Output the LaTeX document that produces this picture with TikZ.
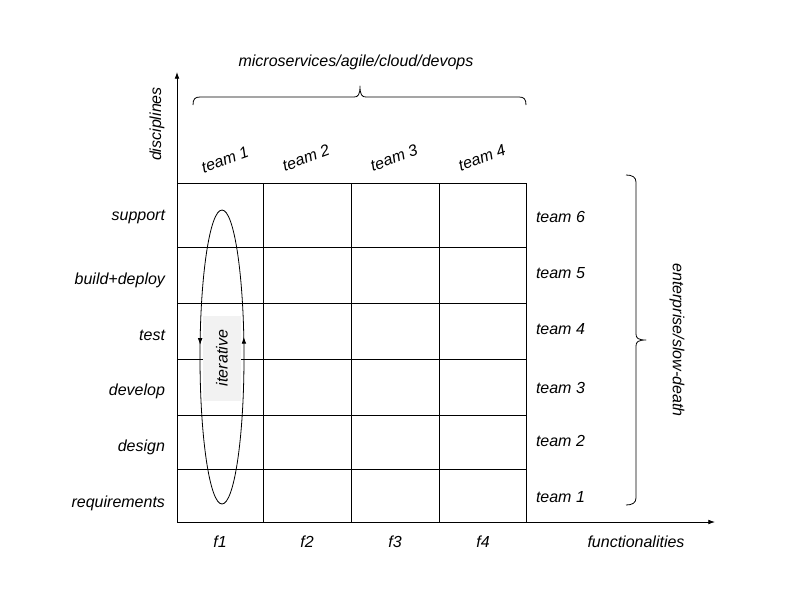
\documentclass[tikz,border=0pt]{standalone}
\usepackage{fontspec}
\setmainfont{Liberation Sans}
\usetikzlibrary{arrows.meta,decorations.markings}

\begin{document}
\begin{tikzpicture}[x=0.75pt,y=-0.75pt]
\definecolor{fillColor}{RGB}{255,255,255}
\definecolor{drawColor}{RGB}{0,0,0}
\definecolor{boxColor}{RGB}{242,242,242}
\tikzset{
  lbl/.style={text=drawColor,inner sep=0pt,outer sep=0pt,font=\fontsize{12}{14}\selectfont\itshape},
  gridline/.style={draw=drawColor,line width=0.6pt},
  axis/.style={draw=drawColor,line width=0.6pt,-{Latex[length=5pt,width=3.5pt]}},
  bracepath/.style={draw=drawColor,line width=0.6pt,line join=round}
}
\path[use as bounding box,fill=fillColor] (0,0) rectangle (800,600);

% axes
\coordinate (origin) at (177,522);
\coordinate (ytip) at (177,72);
\coordinate (xtip) at (715,522);
\path[axis] (origin) -- (ytip);
\path[axis] (origin) -- (xtip);

% grid
\path[gridline] (177,183) -- (526,183);
\path[gridline] (177,247) -- (526,247);
\path[gridline] (177,303) -- (526,303);
\path[gridline] (177,359) -- (526,359);
\path[gridline] (177,415) -- (526,415);
\path[gridline] (177,469) -- (526,469);
\path[gridline] (263,183) -- (263,522);
\path[gridline] (351,183) -- (351,522);
\path[gridline] (439,183) -- (439,522);
\path[gridline] (526,183) -- (526,522);

% iterative loop
\path[fill=boxColor] (203,316) rectangle (241,401);
\node[lbl,rotate=90] (iter) at (222,358) {iterative};
\path[draw=drawColor,line width=0.6pt,postaction={decorate},
  decoration={markings,
    mark=at position 0.52 with {\arrowreversed{Latex[length=5pt,width=3.5pt]}},
    mark=at position 0.967 with {\arrowreversed{Latex[length=5pt,width=3.5pt]}}}]
  (222,357) ellipse (22 and 147);

% disciplines
\node[lbl,anchor=base east] (support) at (165,220) {support};
\node[lbl,anchor=base east] (build) at (165,284) {build+deploy};
\node[lbl,anchor=base east] (test) at (165,340) {test};
\node[lbl,anchor=base east] (develop) at (165,395) {develop};
\node[lbl,anchor=base east] (design) at (165,451) {design};
\node[lbl,anchor=base east] (req) at (165,507) {requirements};

% functionalities
\node[lbl,anchor=base] (f1) at (220,547) {f1};
\node[lbl,anchor=base] (f2) at (307,547) {f2};
\node[lbl,anchor=base] (f3) at (395,547) {f3};
\node[lbl,anchor=base] (f4) at (483,547) {f4};
\node[lbl,anchor=base] (func) at (636,547) {functionalities};
\node[lbl,rotate=90] (disc) at (157,124) {disciplines};

% teams per functionality
\node[lbl,rotate=20] (ft1) at (225,160) {team 1};
\node[lbl,rotate=20] (ft2) at (306,158) {team 2};
\node[lbl,rotate=20] (ft3) at (394,158) {team 3};
\node[lbl,rotate=20] (ft4) at (482,158) {team 4};
\path[bracepath] (193,105) .. controls (193,99) and (195,97) .. (200,97) -- (354,97)
  .. controls (358,97) and (360,95) .. (360,86)
  .. controls (360,95) and (362,97) .. (366,97) -- (519,97)
  .. controls (524,97) and (526,99) .. (526,105);
\node[lbl] (micro) at (356,62) {microservices/agile/cloud/devops};

% teams per discipline
\node[lbl,anchor=base west] (dt6) at (536,222) {team 6};
\node[lbl,anchor=base west] (dt5) at (536,278) {team 5};
\node[lbl,anchor=base west] (dt4) at (536,334) {team 4};
\node[lbl,anchor=base west] (dt3) at (536,393) {team 3};
\node[lbl,anchor=base west] (dt2) at (536,446) {team 2};
\node[lbl,anchor=base west] (dt1) at (536,502) {team 1};
\path[bracepath] (626,175) .. controls (632,175) and (636,177) .. (636,182) -- (636,334)
  .. controls (636,338) and (638,340) .. (646,340)
  .. controls (638,340) and (636,342) .. (636,346) -- (636,498)
  .. controls (636,503) and (632,505) .. (626,505);
\node[lbl,rotate=-90] (enter) at (677,340) {enterprise/slow-death};
\end{tikzpicture}
\end{document}
